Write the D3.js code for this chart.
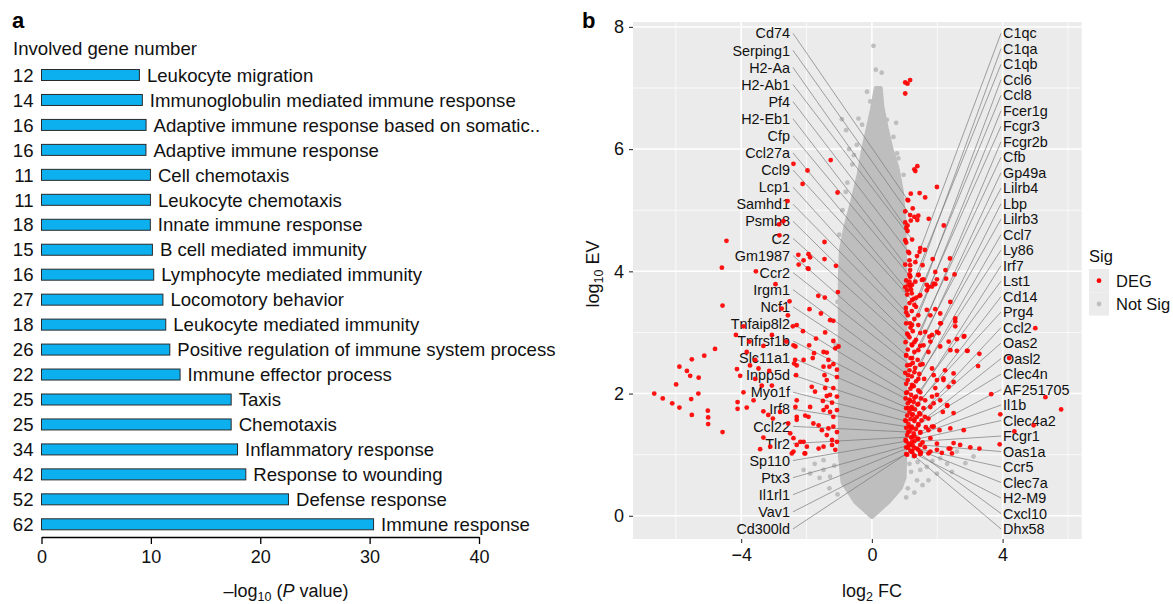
<!DOCTYPE html>
<html>
<head>
<meta charset="utf-8">
<script src="https://cdn.jsdelivr.net/npm/d3@7"></script>
<style>
  body { margin: 0; background: #fff; }
  text { font-family: "Liberation Sans", Arial, Helvetica, sans-serif; }
</style>
</head>
<body>
<svg id="chart" width="1173" height="604"></svg>
<script>
"use strict";

// ---- panel a data ----
var terms = ["Leukocyte migration", "Immunoglobulin mediated immune response",
  "Adaptive immune response based on somatic..", "Adaptive immune response",
  "Cell chemotaxis", "Leukocyte chemotaxis", "Innate immune response",
  "B cell mediated immunity", "Lymphocyte mediated immunity", "Locomotory behavior",
  "Leukocyte mediated immunity", "Positive regulation of immune system process",
  "Immune effector process", "Taxis", "Chemotaxis", "Inflammatory response",
  "Response to wounding", "Defense response", "Immune response"];
var geneCounts = [12, 14, 16, 16, 11, 11, 18, 15, 16, 27, 18, 26, 22, 25, 25, 34, 42, 52, 62];
var negLogP = [8.95, 9.22, 9.56, 9.55, 9.96, 9.96, 9.95, 10.14, 10.26, 11.1, 11.36, 11.73,
  12.67, 17.34, 17.34, 17.92, 18.68, 22.58, 30.36];
var xTicksA = [0, 10, 20, 30, 40];

// ---- panel b data (log2 FC, log10 EV) ----
var xMajor = [-4, 0, 4], xMinor = [-6, -2, 2, 6];
var yMajor = [0, 2, 4, 6, 8], yMinor = [1, 3, 5, 7];

// outline of the dense cloud of not-significant genes
var greyCloud = [[0, -0.02], [0.5, 0.22], [0.88, 0.45], [1.0, 0.62], [1.02, 1.0], [1.03, 2.5],
  [1.02, 4.0], [1.0, 4.8], [0.92, 5.3], [0.78, 5.7], [0.6, 6.0], [0.45, 6.35], [0.32, 6.7],
  [0.27, 7.0], [0.12, 7.0], [0.0, 6.65], [-0.12, 6.35], [-0.25, 6.05], [-0.4, 5.6],
  [-0.6, 5.15], [-0.8, 4.75], [-0.95, 4.35], [-0.98, 3.9], [-0.98, 1.0], [-0.9, 0.55],
  [-0.5, 0.22]];

var greyOutliers = [[-0.92, 6.49], [-0.79, 6.31], [-0.46, 6.07], [-0.41, 6.5], [-0.15, 6.94],
  [-0.05, 6.78], [0.05, 7.69], [0.74, 6.43], [0.66, 6.2], [0.77, 5.93], [0.81, 5.85],
  [0.85, 5.47], [0.97, 5.58], [0.46, 6.48], [0.25, 6.88], [0.28, 6.8], [-0.6, 5.75],
  [-0.8, 5.3], [-0.7, 6.0], [0.9, 5.15], [0.3, 7.25], [0.12, 7.3], [-1.0, 4.6],
  [-0.9, 5.0], [-0.75, 5.45], [-1.05, 3.5], [-1.1, 2.8], [-0.55, 5.9], [-0.3, 6.4],
  [-2.09, 0.75], [-1.89, 0.69], [-1.48, 0.75], [-1.28, 0.64], [-0.97, 0.97], [-1.48, 0.91],
  [-0.87, 0.53], [-1.6, 0.62], [-1.15, 0.82], [-1.3, 0.45], [-1.05, 0.35], [-1.75, 0.85],
  [1.27, 0.97], [1.68, 0.8], [1.99, 0.69], [1.73, 0.58], [1.38, 0.58], [2.86, 0.86],
  [3.11, 0.97], [2.6, 1.05], [2.09, 0.94], [1.48, 0.75], [1.2, 0.72], [2.3, 0.85],
  [1.1, 0.45], [1.3, 0.38], [1.55, 0.5], [1.85, 0.9], [1.15, 0.85], [1.4, 0.88],
  [2.45, 0.72], [1.05, 0.3]];

var redPoints = [
  [-4.45, 4.5], [-4.59, 4.06], [-3.55, 4.0], [-2.95, 3.79], [-2.52, 3.51], [-4.57, 3.44],
  [-2.76, 3.39], [-2.57, 3.28], [-3.93, 3.1], [-4.16, 2.96], [-3.75, 2.85], [-3.32, 2.78],
  [-3.06, 2.96], [-2.62, 2.85], [-4.8, 2.73], [-5.13, 2.62], [-5.51, 2.56], [-3.83, 2.68],
  [-3.73, 2.46], [-3.57, 2.55], [-3.47, 2.41], [-3.14, 2.37], [-5.89, 2.44], [-5.66, 2.37],
  [-5.56, 2.29], [-5.3, 2.26], [-4.13, 2.4], [-4.03, 2.29], [-3.57, 2.24], [-5.99, 2.15],
  [-3.37, 2.13], [-3.06, 2.13], [-6.66, 2.0], [-6.4, 1.92], [-6.11, 1.84], [-5.89, 1.77],
  [-5.53, 1.91], [-5.31, 2.0], [-5.51, 1.65], [-5.02, 1.72], [-5.01, 1.61], [-5.01, 1.5],
  [-4.57, 1.37], [-4.11, 1.86], [-4.11, 1.75], [-3.83, 1.77], [-3.93, 2.02], [-3.62, 1.89],
  [-3.32, 1.71], [-3.17, 1.65], [-3.03, 1.59], [-2.81, 1.7], [-2.56, 1.51], [-2.5, 1.35],
  [-3.32, 1.28], [-3.42, 1.09], [-3.11, 1.13], [-2.45, 1.02], [-2.42, 3.1], [-2.34, 2.77],
  [-2.38, 2.49], [-2.3, 2.46], [-2.32, 2.3], [-2.3, 1.89], [-2.34, 1.78], [-2.3, 1.57],
  [-2.4, 1.27], [-2.19, 1.21], [-2.06, 1.02], [-2.25, 4.27], [-2.09, 4.18], [-1.96, 4.05],
  [-2.4, 5.76], [-1.97, 5.65], [-1.26, 5.82], [-2.12, 5.43], [-1.05, 5.29], [-2.58, 5.15],
  [-2.84, 4.77], [-2.71, 4.82], [-2.83, 4.59], [-1.45, 4.48], [-1.94, 4.28], [-1.89, 4.23],
  [-2.24, 4.11], [-1.94, 4.04], [-1.45, 4.2], [-1.1, 4.09], [-1.64, 3.6], [-1.44, 3.57],
  [-1.04, 3.66], [-1.91, 3.38], [-1.56, 3.31], [-1.28, 3.2], [-1.18, 3.19], [-2.3, 3.12],
  [-2.11, 3.02], [-1.43, 3.0], [-1.18, 2.86], [-1.02, 2.77], [-1.12, 2.74], [-1.71, 2.9],
  [-1.92, 2.79], [-2.4, 2.79], [-1.48, 2.68], [-1.38, 2.67], [-1.77, 2.66], [-1.81, 2.58],
  [-2.09, 2.55], [-1.33, 2.55], [-1.18, 2.48], [-1.3, 2.44], [-1.07, 2.39], [-1.48, 2.44],
  [-1.45, 2.3], [-1.07, 2.27], [-1.38, 2.22], [-2.35, 2.55], [-1.84, 2.11], [-1.74, 2.03],
  [-1.43, 2.09], [-1.18, 2.09], [-1.28, 1.98], [-1.38, 1.96], [-1.07, 1.95], [-1.5, 1.88],
  [-1.22, 1.85], [-1.38, 1.78], [-1.48, 1.73], [-1.28, 1.7], [-1.07, 1.73], [-1.18, 1.62],
  [-1.89, 1.78], [-2.04, 1.64], [-2.3, 1.62], [-1.94, 1.62], [-1.79, 1.51], [-1.63, 1.48],
  [-1.53, 1.4], [-1.33, 1.43], [-1.18, 1.46], [-1.07, 1.37], [-1.38, 1.32], [-1.22, 1.24],
  [-1.07, 1.21], [-1.22, 1.16], [-1.12, 1.08], [-1.48, 1.13], [-1.63, 1.1], [-1.99, 1.13],
  [-2.09, 1.21], [-2.3, 1.16], [-2.4, 1.05], [-2.04, 1.02],
  [1.02, 7.09], [1.09, 7.07], [1.17, 7.13], [1.02, 6.91], [1.3, 5.67], [1.39, 5.72],
  [1.33, 5.64], [1.99, 5.38], [1.19, 5.27], [1.46, 5.28], [1.63, 5.21], [1.09, 5.17],
  [1.25, 5.03], [1.02, 4.98], [1.3, 4.89], [1.42, 4.91], [1.39, 4.84], [1.19, 4.83],
  [1.74, 4.86], [1.02, 4.8], [1.09, 4.75], [1.09, 4.66], [2.2, 4.75], [1.02, 4.51],
  [1.05, 4.47], [1.14, 4.3], [1.48, 4.38], [1.62, 4.35], [1.38, 4.25], [1.46, 4.32],
  [1.86, 4.2], [2.39, 4.21], [1.15, 4.18], [1.17, 4.1], [1.17, 4.02], [1.15, 3.95],
  [1.55, 4.1], [1.94, 3.99], [2.25, 4.02], [2.53, 3.95], [1.43, 3.94], [1.99, 3.87],
  [2.27, 3.88], [1.17, 3.91], [1.15, 3.83], [1.58, 3.87], [1.73, 3.74], [1.68, 3.69],
  [1.84, 3.75], [1.94, 3.79], [1.02, 3.74], [1.17, 3.75], [1.22, 3.64], [1.36, 3.57],
  [1.46, 3.6], [1.53, 3.86], [1.68, 3.78], [1.89, 3.8], [1.33, 3.83], [2.4, 3.5],
  [1.68, 3.37], [1.94, 3.38], [1.79, 3.28], [2.09, 3.31], [2.55, 3.18], [2.09, 3.15],
  [1.99, 3.01], [1.84, 2.96], [1.63, 3.01], [2.6, 2.89], [2.81, 2.93], [2.4, 2.71],
  [2.6, 2.7], [2.91, 2.7], [3.29, 2.65], [1.58, 2.79], [1.79, 2.85], [1.73, 2.68],
  [3.25, 2.45], [4.2, 2.58], [2.24, 2.38], [2.19, 2.25], [2.5, 2.33], [2.35, 2.11],
  [1.84, 2.41], [1.89, 2.3], [1.99, 2.22], [3.65, 1.99], [1.99, 1.98], [2.09, 1.89],
  [2.3, 1.81], [2.17, 1.7], [1.89, 1.84], [3.93, 1.66], [2.81, 1.4], [2.4, 1.43],
  [1.89, 1.46], [1.73, 1.4], [4.36, 1.38], [3.91, 1.17], [3.29, 1.1], [3.01, 1.12],
  [2.7, 1.16], [2.5, 1.19], [2.35, 1.1], [2.45, 1.02], [2.14, 1.03], [1.99, 1.08],
  [1.79, 1.05], [1.5, 1.03], [5.0, 3.07], [5.31, 1.94], [5.79, 1.74], [4.95, 1.48],
  [2.55, 3.1], [2.55, 3.23], [2.11, 3.15], [2.04, 2.99], [1.76, 2.93], [2.09, 2.77],
  [2.35, 2.85], [2.83, 2.94], [2.93, 2.7], [2.5, 2.19], [2.19, 2.22], [1.94, 2.09],
  [1.84, 1.95], [1.63, 1.89], [1.79, 1.78], [2.31, 1.8], [2.5, 1.68], [2.07, 1.4],
  [1.84, 1.46], [1.73, 1.59], [1.99, 1.18], [1.79, 1.27], [2.4, 1.1], [1.73, 1.02],
  [1.05, 3.85], [1.12, 3.78], [1.2, 3.7], [1.08, 3.62], [1.28, 3.55], [1.15, 3.48],
  [1.04, 3.4], [1.22, 3.35], [1.35, 3.42], [1.1, 3.28], [1.3, 3.22], [1.05, 3.15],
  [1.18, 3.08], [1.42, 3.12], [1.25, 3.02], [1.08, 2.98], [1.15, 2.92], [1.35, 2.88],
  [1.03, 2.84], [1.22, 2.8], [1.48, 2.78], [1.1, 2.72], [1.3, 2.68], [1.05, 2.62],
  [1.18, 2.58], [1.4, 2.55], [1.25, 2.5], [1.08, 2.46], [1.55, 2.48], [1.32, 2.42],
  [1.15, 2.38], [1.02, 2.34], [1.45, 2.32], [1.22, 2.28], [1.1, 2.22], [1.35, 2.2],
  [1.6, 2.24], [1.05, 2.16], [1.28, 2.12], [1.18, 2.08], [1.42, 2.05], [1.08, 2.02],
  [1.2, 1.98], [1.35, 1.95], [1.03, 1.92], [1.15, 1.9], [1.5, 1.92], [1.28, 1.86],
  [1.1, 1.84], [1.4, 1.82], [1.22, 1.78], [1.05, 1.76], [1.32, 1.74], [1.58, 1.76],
  [1.15, 1.7], [1.45, 1.68], [1.25, 1.66], [1.08, 1.64], [1.38, 1.62], [1.18, 1.58],
  [1.02, 1.56], [1.3, 1.55], [1.52, 1.56], [1.12, 1.5], [1.42, 1.48], [1.22, 1.46],
  [1.05, 1.44], [1.35, 1.42], [1.15, 1.38], [1.28, 1.35], [1.48, 1.36], [1.08, 1.32],
  [1.2, 1.28], [1.4, 1.26], [1.03, 1.24], [1.3, 1.22], [1.12, 1.18], [1.55, 1.2],
  [1.25, 1.15], [1.05, 1.12], [1.38, 1.1], [1.18, 1.06], [1.48, 1.04], [1.08, 1.0],
  [1.3, 0.98], [1.62, 1.12], [1.65, 1.45], [1.62, 1.62]];

// labelled genes
var leftGenes = ["Cd74", "Serping1", "H2-Aa", "H2-Ab1", "Pf4", "H2-Eb1", "Cfp", "Ccl27a",
  "Ccl9", "Lcp1", "Samhd1", "Psmb8", "C2", "Gm1987", "Ccr2", "Irgm1", "Ncf1", "Tnfaip8l2",
  "Tnfrsf1b", "Slc11a1", "Inpp5d", "Myo1f", "Irf8", "Ccl22", "Tlr2", "Sp110", "Ptx3",
  "Il1rl1", "Vav1", "Cd300ld"];
var leftGenePos = [[1.11, 5.16], [1.17, 4.92], [1.05, 4.71], [1.23, 4.52], [1.11, 4.32],
  [1.02, 4.11], [1.17, 3.92], [1.08, 3.69], [1.23, 3.53], [1.05, 3.33], [1.17, 3.15],
  [1.11, 2.96], [1.23, 2.79], [1.05, 2.63], [1.17, 2.47], [1.11, 2.3], [1.23, 2.14],
  [1.05, 2.01], [1.17, 1.88], [1.11, 1.76], [1.23, 1.65], [1.05, 1.55], [1.17, 1.45],
  [1.11, 1.37], [1.23, 1.29], [1.05, 1.22], [1.17, 1.16], [1.11, 1.11], [1.23, 1.06],
  [1.05, 1.01]];
var rightGenes = ["C1qc", "C1qa", "C1qb", "Ccl6", "Ccl8", "Fcer1g", "Fcgr3", "Fcgr2b", "Cfb",
  "Gp49a", "Lilrb4", "Lbp", "Lilrb3", "Ccl7", "Ly86", "Irf7", "Lst1", "Cd14", "Prg4", "Ccl2",
  "Oas2", "Oasl2", "Clec4n", "AF251705", "Il1b", "Clec4a2", "Fcgr1", "Oas1a", "Ccr5",
  "Clec7a", "H2-M9", "Cxcl10", "Dhx58"];
var rightGenePos = [[1.33, 4.15], [1.42, 3.94], [1.23, 3.78], [1.48, 3.61], [1.3, 3.45],
  [1.42, 3.28], [1.23, 3.12], [1.48, 2.99], [1.3, 2.84], [1.42, 2.71], [1.23, 2.58],
  [1.48, 2.47], [1.3, 2.35], [1.42, 2.24], [1.23, 2.12], [1.48, 2.02], [1.3, 1.93],
  [1.42, 1.83], [1.23, 1.75], [1.48, 1.66], [1.3, 1.58], [1.42, 1.5], [1.23, 1.43],
  [1.48, 1.37], [1.3, 1.3], [1.42, 1.26], [1.23, 1.21], [1.48, 1.16], [1.3, 1.11],
  [1.42, 1.08], [1.23, 1.04], [1.48, 1.01], [1.3, 0.98]];

var legendKeys = ["DEG", "Not Sig"];
var RED = "#ff0000", GREY = "#bebebe";

var svg = d3.select("#chart");

// ================= panel a =================
var xA = d3.scaleLinear().domain([0, 40]).range([41.5, 479]);
var yA = d3.scalePoint().domain(terms).range([75, 524.3]);
var gA = svg.append("g");

svg.append("text").attr("x", 12).attr("y", 28).attr("font-size", 22)
  .attr("font-weight", "bold").text("a");
svg.append("text").attr("x", 13).attr("y", 55).attr("font-size", 18.6)
  .attr("fill", "#111").text("Involved gene number");

gA.selectAll("rect.bar").data(terms).enter().append("rect")
  .attr("class", "bar")
  .attr("x", xA(0))
  .attr("y", function(d) { return yA(d) - 5.5; })
  .attr("width", function(d, i) { return xA(negLogP[i]) - xA(0); })
  .attr("height", 11)
  .attr("fill", "#0db0ef")
  .attr("stroke", "#2a2a2a")
  .attr("stroke-width", 1);

gA.selectAll("text.count").data(terms).enter().append("text")
  .attr("class", "count")
  .attr("x", 33.5)
  .attr("y", function(d) { return yA(d); })
  .attr("dy", "0.36em")
  .attr("text-anchor", "end")
  .attr("font-size", 18.6)
  .attr("fill", "#111")
  .text(function(d, i) { return geneCounts[i]; });

gA.selectAll("text.term").data(terms).enter().append("text")
  .attr("class", "term")
  .attr("x", function(d, i) { return xA(negLogP[i]) + 7.5; })
  .attr("y", function(d) { return yA(d); })
  .attr("dy", "0.36em")
  .attr("font-size", 18.6)
  .attr("fill", "#111")
  .text(function(d) { return d; });

var axA = gA.append("g")
  .attr("transform", "translate(0,537)")
  .call(d3.axisBottom(xA).tickValues(xTicksA).tickSize(7).tickSizeOuter(0).tickPadding(6));
axA.attr("font-family", null).attr("font-size", null);
axA.select(".domain").attr("stroke", "#000").attr("stroke-width", 1.3);
axA.selectAll(".tick line").attr("stroke", "#000").attr("stroke-width", 1.3);
axA.selectAll(".tick text").attr("font-size", 18).attr("fill", "#111");

var titleA = svg.append("text").attr("x", 286).attr("y", 597)
  .attr("text-anchor", "middle").attr("font-size", 18).attr("fill", "#111");
titleA.append("tspan").text("\u2013log");
titleA.append("tspan").attr("font-size", 12.5).attr("dy", 4).text("10");
titleA.append("tspan").attr("dy", -4).text(" (");
titleA.append("tspan").attr("font-style", "italic").text("P");
titleA.append("tspan").text(" value)");

// ================= panel b =================
var xB = d3.scaleLinear().domain([-7.31, 6.42]).range([633, 1081.7]);
var yB = d3.scaleLinear().domain([-0.38, 8.08]).range([539, 22]);
var gB = svg.append("g");

svg.append("text").attr("x", 582).attr("y", 28).attr("font-size", 22)
  .attr("font-weight", "bold").text("b");

gB.append("rect").attr("x", xB.range()[0]).attr("y", yB.range()[1])
  .attr("width", xB.range()[1] - xB.range()[0])
  .attr("height", yB.range()[0] - yB.range()[1])
  .attr("fill", "#ebebeb");

gB.selectAll("line.xminor").data(xMinor).enter().append("line")
  .attr("x1", xB).attr("x2", xB).attr("y1", yB.range()[0]).attr("y2", yB.range()[1])
  .attr("stroke", "#fff").attr("stroke-width", 0.7);
gB.selectAll("line.yminor").data(yMinor).enter().append("line")
  .attr("y1", yB).attr("y2", yB).attr("x1", xB.range()[0]).attr("x2", xB.range()[1])
  .attr("stroke", "#fff").attr("stroke-width", 0.7);
gB.selectAll("line.xmajor").data(xMajor).enter().append("line")
  .attr("x1", xB).attr("x2", xB).attr("y1", yB.range()[0]).attr("y2", yB.range()[1])
  .attr("stroke", "#fff").attr("stroke-width", 1.5);
gB.selectAll("line.ymajor").data(yMajor).enter().append("line")
  .attr("y1", yB).attr("y2", yB).attr("x1", xB.range()[0]).attr("x2", xB.range()[1])
  .attr("stroke", "#fff").attr("stroke-width", 1.5);

// grey cloud + scattered grey points
var cloudLine = d3.line()
  .x(function(d) { return xB(d[0]); })
  .y(function(d) { return yB(d[1]); })
  .curve(d3.curveLinearClosed);
gB.append("path").datum(greyCloud)
  .attr("d", cloudLine)
  .attr("fill", GREY).attr("stroke", GREY).attr("stroke-width", 4)
  .attr("stroke-linejoin", "round");

gB.selectAll("circle.grey").data(greyOutliers).enter().append("circle")
  .attr("class", "grey")
  .attr("cx", function(d) { return xB(d[0]); })
  .attr("cy", function(d) { return yB(d[1]); })
  .attr("r", 2.4).attr("fill", GREY);

// label segments
function leftY(i) { return 33.3 + i * 17.09; }
function rightY(i) { return 33.3 + i * 15.49; }

gB.selectAll("line.lseg").data(leftGenePos).enter().append("line")
  .attr("x1", 793).attr("y1", function(d, i) { return leftY(i); })
  .attr("x2", function(d) { return xB(d[0]); })
  .attr("y2", function(d) { return yB(d[1]); })
  .attr("stroke", "#7a7a7a").attr("stroke-width", 0.7);
gB.selectAll("line.rseg").data(rightGenePos).enter().append("line")
  .attr("x1", 1001).attr("y1", function(d, i) { return rightY(i); })
  .attr("x2", function(d) { return xB(d[0]); })
  .attr("y2", function(d) { return yB(d[1]); })
  .attr("stroke", "#7a7a7a").attr("stroke-width", 0.7);

gB.selectAll("text.lgene").data(leftGenes).enter().append("text")
  .attr("x", 790).attr("y", function(d, i) { return leftY(i); })
  .attr("dy", "0.36em").attr("text-anchor", "end")
  .attr("font-size", 14.4).attr("fill", "#111")
  .text(function(d) { return d; });
gB.selectAll("text.rgene").data(rightGenes).enter().append("text")
  .attr("x", 1003).attr("y", function(d, i) { return rightY(i); })
  .attr("dy", "0.36em")
  .attr("font-size", 14.4).attr("fill", "#111")
  .text(function(d) { return d; });

// significant genes
var allRed = redPoints.concat(leftGenePos, rightGenePos);
gB.selectAll("circle.red").data(allRed).enter().append("circle")
  .attr("class", "red")
  .attr("cx", function(d) { return xB(d[0]); })
  .attr("cy", function(d) { return yB(d[1]); })
  .attr("r", 2.4).attr("fill", RED).attr("fill-opacity", 0.92);

// axes b
var axBx = gB.append("g").attr("transform", "translate(0," + yB.range()[0] + ")")
  .call(d3.axisBottom(xB).tickValues(xMajor).tickSize(4).tickSizeOuter(0).tickPadding(5)
    .tickFormat(function(d) { return d < 0 ? "\u2212" + Math.abs(d) : d; }));
axBx.attr("font-family", null).attr("font-size", null);
axBx.select(".domain").remove();
axBx.selectAll(".tick line").attr("stroke", "#333").attr("stroke-width", 1.1);
axBx.selectAll(".tick text").attr("font-size", 18).attr("fill", "#111");

var axBy = gB.append("g").attr("transform", "translate(" + xB.range()[0] + ",0)")
  .call(d3.axisLeft(yB).tickValues(yMajor).tickSize(4).tickSizeOuter(0).tickPadding(5));
axBy.attr("font-family", null).attr("font-size", null);
axBy.select(".domain").remove();
axBy.selectAll(".tick line").attr("stroke", "#333").attr("stroke-width", 1.1);
axBy.selectAll(".tick text").attr("font-size", 18).attr("fill", "#111");

var titleBx = svg.append("text").attr("x", 872).attr("y", 597)
  .attr("text-anchor", "middle").attr("font-size", 18).attr("fill", "#111");
titleBx.append("tspan").text("log");
titleBx.append("tspan").attr("font-size", 12.5).attr("dy", 4).text("2");
titleBx.append("tspan").attr("dy", -4).text(" FC");

var titleBy = svg.append("text")
  .attr("transform", "translate(599,274) rotate(-90)")
  .attr("text-anchor", "middle").attr("font-size", 18).attr("fill", "#111");
titleBy.append("tspan").text("log");
titleBy.append("tspan").attr("font-size", 12.5).attr("dy", 4).text("10");
titleBy.append("tspan").attr("dy", -4).text(" EV");

// legend
var leg = svg.append("g").attr("transform", "translate(1089,0)");
leg.append("text").attr("x", 0).attr("y", 262).attr("font-size", 16.5).attr("fill", "#111").text("Sig");
var keys = leg.selectAll("g.key").data(legendKeys).enter().append("g")
  .attr("transform", function(d, i) { return "translate(0," + (269 + i * 23.3) + ")"; });
keys.append("rect").attr("width", 20).attr("height", 23.3).attr("fill", "#ebebeb");
keys.append("circle").attr("cx", 10).attr("cy", 11.7).attr("r", 2.4)
  .attr("fill", function(d, i) { return i === 0 ? RED : GREY; });
keys.append("text").attr("x", 27).attr("y", 11.7).attr("dy", "0.36em")
  .attr("font-size", 16.5).attr("fill", "#111").text(function(d) { return d; });
</script>
</body>
</html>
